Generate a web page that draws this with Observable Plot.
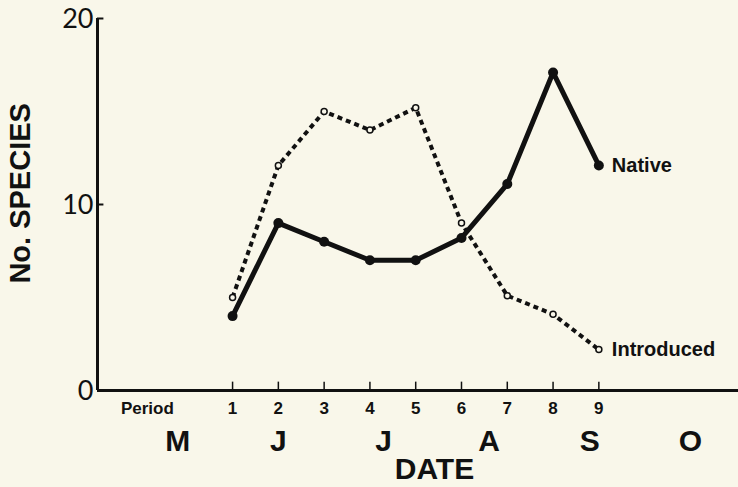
<!DOCTYPE html>
<html><head><meta charset="utf-8">
<script src="https://cdn.jsdelivr.net/npm/d3@7"></script>
<script src="https://cdn.jsdelivr.net/npm/@observablehq/plot@0.6"></script>
<style>
html,body{margin:0;padding:0;background:#f9f7ea;}
svg{display:block;overflow:visible;}
</style></head>
<body><div id="chart"></div>
<script>
const periods = [1,2,3,4,5,6,7,8,9];
const native = [4.0, 9.0, 8.0, 7.0, 7.0, 8.2, 11.1, 17.1, 12.1];
const introduced = [5.0, 12.1, 15.0, 14.0, 15.2, 9.0, 5.1, 4.1, 2.2];
const yTicks = [0, 10, 20];
const months = ["M","J","J","A","S","O"];
const monthPos = [-0.2, 2.0, 4.3, 6.6, 8.8, 11.0];
const seriesLabels = ["Native","Introduced"];

const xMin = -1.95, xMax = 12.05;
const nat = periods.map((p,i)=>({p, v: native[i]}));
const intr = periods.map((p,i)=>({p, v: introduced[i]}));
const mon = months.map((m,i)=>({m, x: monthPos[i]}));
const font = "Liberation Sans, Arial, Helvetica, sans-serif";

const chart = Plot.plot({
  width: 738, height: 487,
  marginLeft: 97, marginRight: 0, marginTop: 18, marginBottom: 97,
  style: {background: "#f9f7ea", fontFamily: font, color: "#111"},
  x: {domain: [xMin, xMax], axis: null},
  y: {domain: [0, 20], axis: null},
  marks: [
    Plot.ruleY([0], {x1: xMin, x2: xMax, stroke: "#111", strokeWidth: 3}),
    Plot.ruleX([xMin], {y1: 0, y2: 20, stroke: "#111", strokeWidth: 3}),
    Plot.ruleY(yTicks, {x1: xMin, x2: xMin + 0.14, stroke: "#111", strokeWidth: 2}),
    Plot.text(yTicks, {x: xMin, y: d=>d, dx: -4, dy: 1, textAnchor: "end", fontSize: 27, fontWeight: 400, fill: "#111", fontFamily: "Lato, Liberation Sans, sans-serif"}),
    Plot.ruleX(periods, {y1: 0, y2: 0.45, stroke: "#111", strokeWidth: 1.5}),
    Plot.text(periods, {x: d=>d, y: 0, dy: 18, fontSize: 17, fontWeight: "bold", fill: "#111"}),
    Plot.text(["Period"], {x: -0.86, y: 0, dy: 18, fontSize: 17, fontWeight: "bold", fill: "#111"}),
    Plot.text(mon, {x: "x", y: 0, text: "m", dy: 51, fontSize: 30, fontWeight: "bold", fill: "#111"}),
    Plot.text(["DATE"], {x: 5.41, y: 0, dy: 79, fontSize: 30, fontWeight: "bold", fill: "#111", letterSpacing: 2}),
    Plot.text(["No. SPECIES"], {x: xMin, y: 10.6, dx: -77, rotate: -90, fontSize: 29, fontWeight: "bold", fill: "#111", letterSpacing: 1}),
    Plot.line(intr, {x: "p", y: "v", stroke: "#111", strokeWidth: 4, strokeDasharray: "5,4", strokeLinecap: "butt", strokeLinejoin: "miter"}),
    Plot.dot(intr, {x: "p", y: "v", r: 3, stroke: "#111", strokeWidth: 1.5, fill: "#f9f7ea"}),
    Plot.line(nat, {x: "p", y: "v", stroke: "#111", strokeWidth: 5}),
    Plot.dot(nat, {x: "p", y: "v", r: 5, fill: "#111"}),
    Plot.text([{t: seriesLabels[0], v: native[8]}, {t: seriesLabels[1], v: introduced[8]}],
      {x: 9, y: "v", text: "t", dx: 13, textAnchor: "start", fontSize: 20, fontWeight: "bold", fill: "#111", letterSpacing: 1.2})
  ]
});
document.getElementById("chart").appendChild(chart);
</script></body></html>
